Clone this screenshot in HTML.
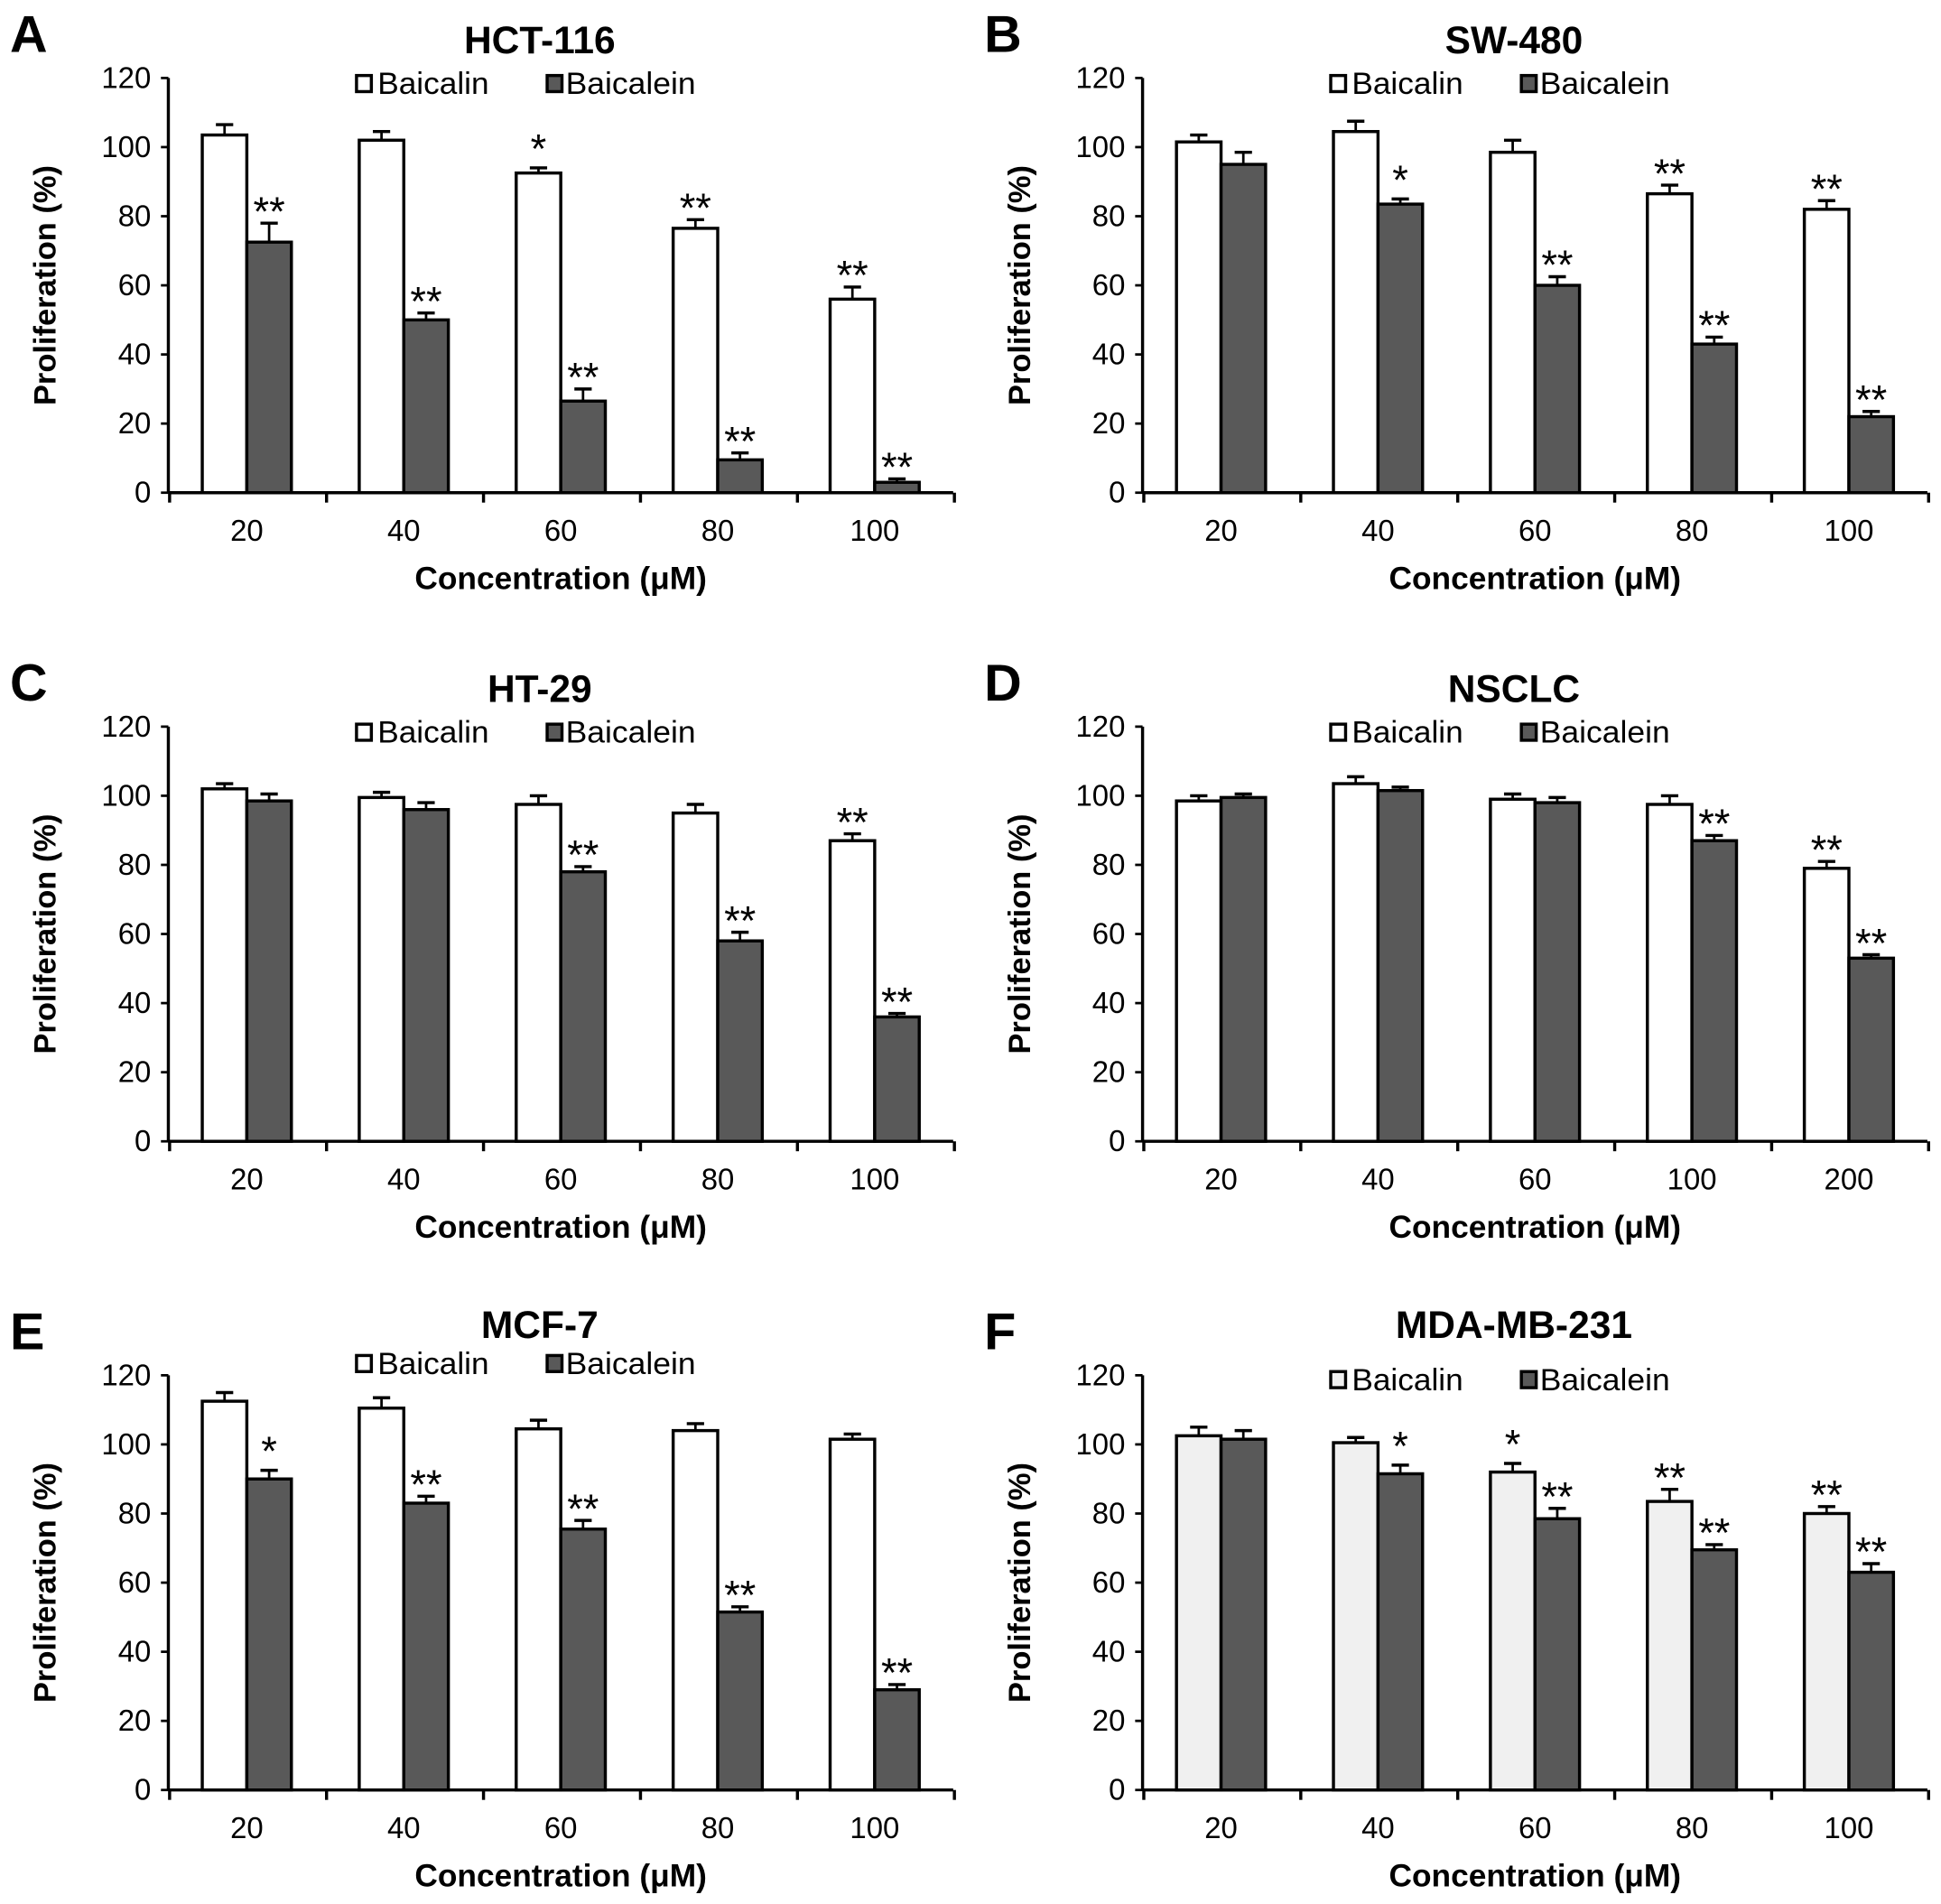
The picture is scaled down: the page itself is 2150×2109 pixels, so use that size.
<!DOCTYPE html>
<html><head><meta charset="utf-8"><style>
html,body{margin:0;padding:0;background:#fff;}
svg{display:block;}
.tick{font-family:"Liberation Sans Narrow","Liberation Sans",sans-serif;font-size:24px;fill:#000;}
.xt{font-family:"Liberation Sans Narrow","Liberation Sans",sans-serif;font-size:26px;font-weight:bold;fill:#000;}
.yt{font-family:"Liberation Sans",sans-serif;font-size:25px;font-weight:bold;fill:#000;}
.ttl{font-family:"Liberation Sans","Liberation Sans Narrow",sans-serif;font-size:31px;font-weight:bold;fill:#000;}
.let{font-family:"Liberation Sans",sans-serif;font-size:42px;font-weight:bold;fill:#000;}
.leg{font-family:"Liberation Sans Narrow","Liberation Sans",sans-serif;font-size:25px;fill:#000;}
.star{font-family:"Liberation Sans",sans-serif;font-size:33px;fill:#000;}
</style></head><body>
<svg id="fig" width="2150" height="2109" viewBox="0 0 1568 1538.1" xmlns="http://www.w3.org/2000/svg"></svg>
<script>
const catsStd = ["20","40","60","80","100"];
const catsD = ["20","40","60","100","200"];
const yTicks = [0,20,40,60,80,100,120];
const aBaicalin = [103.5,102,92.5,76.5,56];
const aBaicalinErr = [3,2.5,1.5,2.5,3.5];
const aBaicalein = [72.5,50,26.5,9.5,3];
const aBaicaleinErr = [5.5,2,3.5,2,1];
const aStar1 = ["","","*","**","**"];
const aStar2 = ["**","**","**","**","**"];
const bBaicalin = [101.5,104.5,98.5,86.5,82];
const bBaicalinErr = [2,3,3.5,2.5,2.5];
const bBaicalein = [95,83.5,60,43,22];
const bBaicaleinErr = [3.5,1.5,2.5,2,1.5];
const bStar1 = ["","","","**","**"];
const bStar2 = ["","*","**","**","**"];
const cBaicalin = [102,99.5,97.5,95,87];
const cBaicalinErr = [1.5,1.5,2.5,2.5,2];
const cBaicalein = [98.5,96,78,58,36];
const cBaicaleinErr = [2,2,1.5,2.5,1];
const cStar1 = ["","","","","**"];
const cStar2 = ["","","**","**","**"];
const dBaicalin = [98.5,103.5,99,97.5,79];
const dBaicalinErr = [1.5,2,1.5,2.5,2];
const dBaicalein = [99.5,101.5,98,87,53];
const dBaicaleinErr = [1,1,1.5,1.5,1];
const dStar1 = ["","","","","**"];
const dStar2 = ["","","","**","**"];
const eBaicalin = [112.5,110.5,104.5,104,101.5];
const eBaicalinErr = [2.5,3,2.5,2,1.5];
const eBaicalein = [90,83,75.5,51.5,29];
const eBaicaleinErr = [2.5,2,2.5,1.5,1.5];
const eStar1 = ["","","","",""];
const eStar2 = ["*","**","**","**","**"];
const fBaicalin = [102.5,100.5,92,83.5,80];
const fBaicalinErr = [2.5,1.5,2.5,3.5,2];
const fBaicalein = [101.5,91.5,78.5,69.5,63];
const fBaicaleinErr = [2.5,2.5,3,1.5,2.5];
const fStar1 = ["","","*","**","**"];
const fStar2 = ["","*","**","**","**"];

const NS="http://www.w3.org/2000/svg";
const svg=document.getElementById('fig');
function mk(tag,attrs,parent,text){const e=document.createElementNS(NS,tag);for(const k in attrs)e.setAttribute(k,attrs[k]);if(text!==undefined)e.textContent=text;parent.appendChild(e);return e;}

const panels=[
 {id:"a",L:"A",title:"HCT-116",ax:136,y0:398,cats:catsStd,v1:aBaicalin,e1:aBaicalinErr,v2:aBaicalein,e2:aBaicaleinErr,s1:aStar1,s2:aStar2,tdy:-366,ldy:-331,fill1:"#fff"},
 {id:"b",L:"B",title:"SW-480",ax:923,y0:398,cats:catsStd,v1:bBaicalin,e1:bBaicalinErr,v2:bBaicalein,e2:bBaicaleinErr,s1:bStar1,s2:bStar2,tdy:-366,ldy:-331,fill1:"#fff"},
 {id:"c",L:"C",title:"HT-29",ax:136,y0:922,cats:catsStd,v1:cBaicalin,e1:cBaicalinErr,v2:cBaicalein,e2:cBaicaleinErr,s1:cStar1,s2:cStar2,tdy:-366,ldy:-331,fill1:"#fff"},
 {id:"d",L:"D",title:"NSCLC",ax:923,y0:922,cats:catsD,v1:dBaicalin,e1:dBaicalinErr,v2:dBaicalein,e2:dBaicaleinErr,s1:dStar1,s2:dStar2,tdy:-366,ldy:-331,fill1:"#fff"},
 {id:"e",L:"E",title:"MCF-7",ax:136,y0:1446,cats:catsStd,v1:eBaicalin,e1:eBaicalinErr,v2:eBaicalein,e2:eBaicaleinErr,s1:eStar1,s2:eStar2,tdy:-376,ldy:-345,fill1:"#fff"},
 {id:"f",L:"F",title:"MDA-MB-231",ax:923,y0:1446,cats:catsStd,v1:fBaicalin,e1:fBaicalinErr,v2:fBaicalein,e2:fBaicaleinErr,s1:fStar1,s2:fStar2,tdy:-376,ldy:-332,fill1:"#f0f0f0"}
];
const PX=335/120, W=634, BW=36, DARK="#595959";

panels.forEach(p=>{
 const g=mk('g',{},svg);
 
 
 const y=v=>p.y0-v*PX;
 const step=W/p.cats.length;
 const let_=mk('text',{x:p.ax-128,y:p.y0-356,class:"let"},g,p.L);
 
 
 const t=mk('text',{x:p.ax+300,y:p.y0+p.tdy+11,class:"ttl","text-anchor":"middle"},g,p.title);
 
 
 // legend
 const lg=mk('g',{},g);
 
 
 const ly=p.y0+p.ldy;
 mk('rect',{x:p.ax+152,y:ly-6,width:12,height:13,fill:p.fill1,stroke:"#000","stroke-width":2.5},lg);
 mk('text',{x:p.ax+169,y:ly+9,class:"leg",textLength:90,lengthAdjust:"spacingAndGlyphs"},lg,"Baicalin");
 mk('rect',{x:p.ax+306,y:ly-6,width:12,height:13,fill:DARK,stroke:"#000","stroke-width":2.5},lg);
 mk('text',{x:p.ax+321,y:ly+9,class:"leg",textLength:105,lengthAdjust:"spacingAndGlyphs"},lg,"Baicalein");
 // y axis
 const ya=mk('g',{},g);
 
 
 mk('line',{x1:p.ax,y1:y(0),x2:p.ax,y2:y(120),stroke:"#000","stroke-width":2.5},ya);
 yTicks.forEach(v=>{
  mk('line',{x1:p.ax-6,y1:y(v),x2:p.ax,y2:y(v),stroke:"#000","stroke-width":2},ya);
  mk('text',{x:p.ax-14,y:y(v)+8,class:"tick","text-anchor":"end"},ya,String(v));
 });
 const yl=mk('text',{x:0,y:0,class:"yt","text-anchor":"middle",textLength:194,lengthAdjust:"spacingAndGlyphs",transform:`translate(${p.ax-91},${y(60)}) rotate(-90)`},g,"Proliferation (%)");
 
 
 // x axis
 const xa=mk('g',{},g);
 
 
 mk('line',{x1:p.ax,y1:p.y0,x2:p.ax+W,y2:p.y0,stroke:"#000","stroke-width":2.5},xa);
 for(let i=0;i<=p.cats.length;i++){
  mk('line',{x1:p.ax+1+i*step,y1:p.y0,x2:p.ax+1+i*step,y2:p.y0+8,stroke:"#000","stroke-width":2.5},xa);
 }
 p.cats.forEach((c,i)=>{
  mk('text',{x:p.ax+(i+0.5)*step,y:p.y0+39,class:"tick","text-anchor":"middle"},xa,c);
 });
 const xl=mk('text',{x:p.ax+317,y:p.y0+78,class:"xt","text-anchor":"middle",textLength:236,lengthAdjust:"spacingAndGlyphs"},g,"Concentration (μM)");
 
 
 // bars
 p.cats.forEach((c,i)=>{
  const cx=p.ax+(i+0.5)*step;
  [[p.v1,p.e1,p.s1,cx-BW,p.fill1,'baicalin'],[p.v2,p.e2,p.s2,cx,DARK,'baicalein']].forEach(([vals,errs,stars,x0,fill,nm])=>{
   const v=vals[i], e=errs[i];
   const bc=x0+BW/2;
   mk('line',{x1:bc,y1:y(v),x2:bc,y2:y(v+e),stroke:"#000","stroke-width":2},g);
   mk('line',{x1:bc-7,y1:y(v+e),x2:bc+7,y2:y(v+e),stroke:"#000","stroke-width":2.5},g);
   const r=mk('rect',{x:x0,y:y(v),width:BW,height:v*PX,fill:fill,stroke:"#000","stroke-width":2.5},g);
   
   
   if(stars[i]){
    const s=mk('text',{x:bc,y:y(v+e)-4+(stars[i]==="*"?0:6),class:"star","text-anchor":"middle"},g,stars[i]);
    
    
   }
  });
 });
});
</script>
</body></html>
